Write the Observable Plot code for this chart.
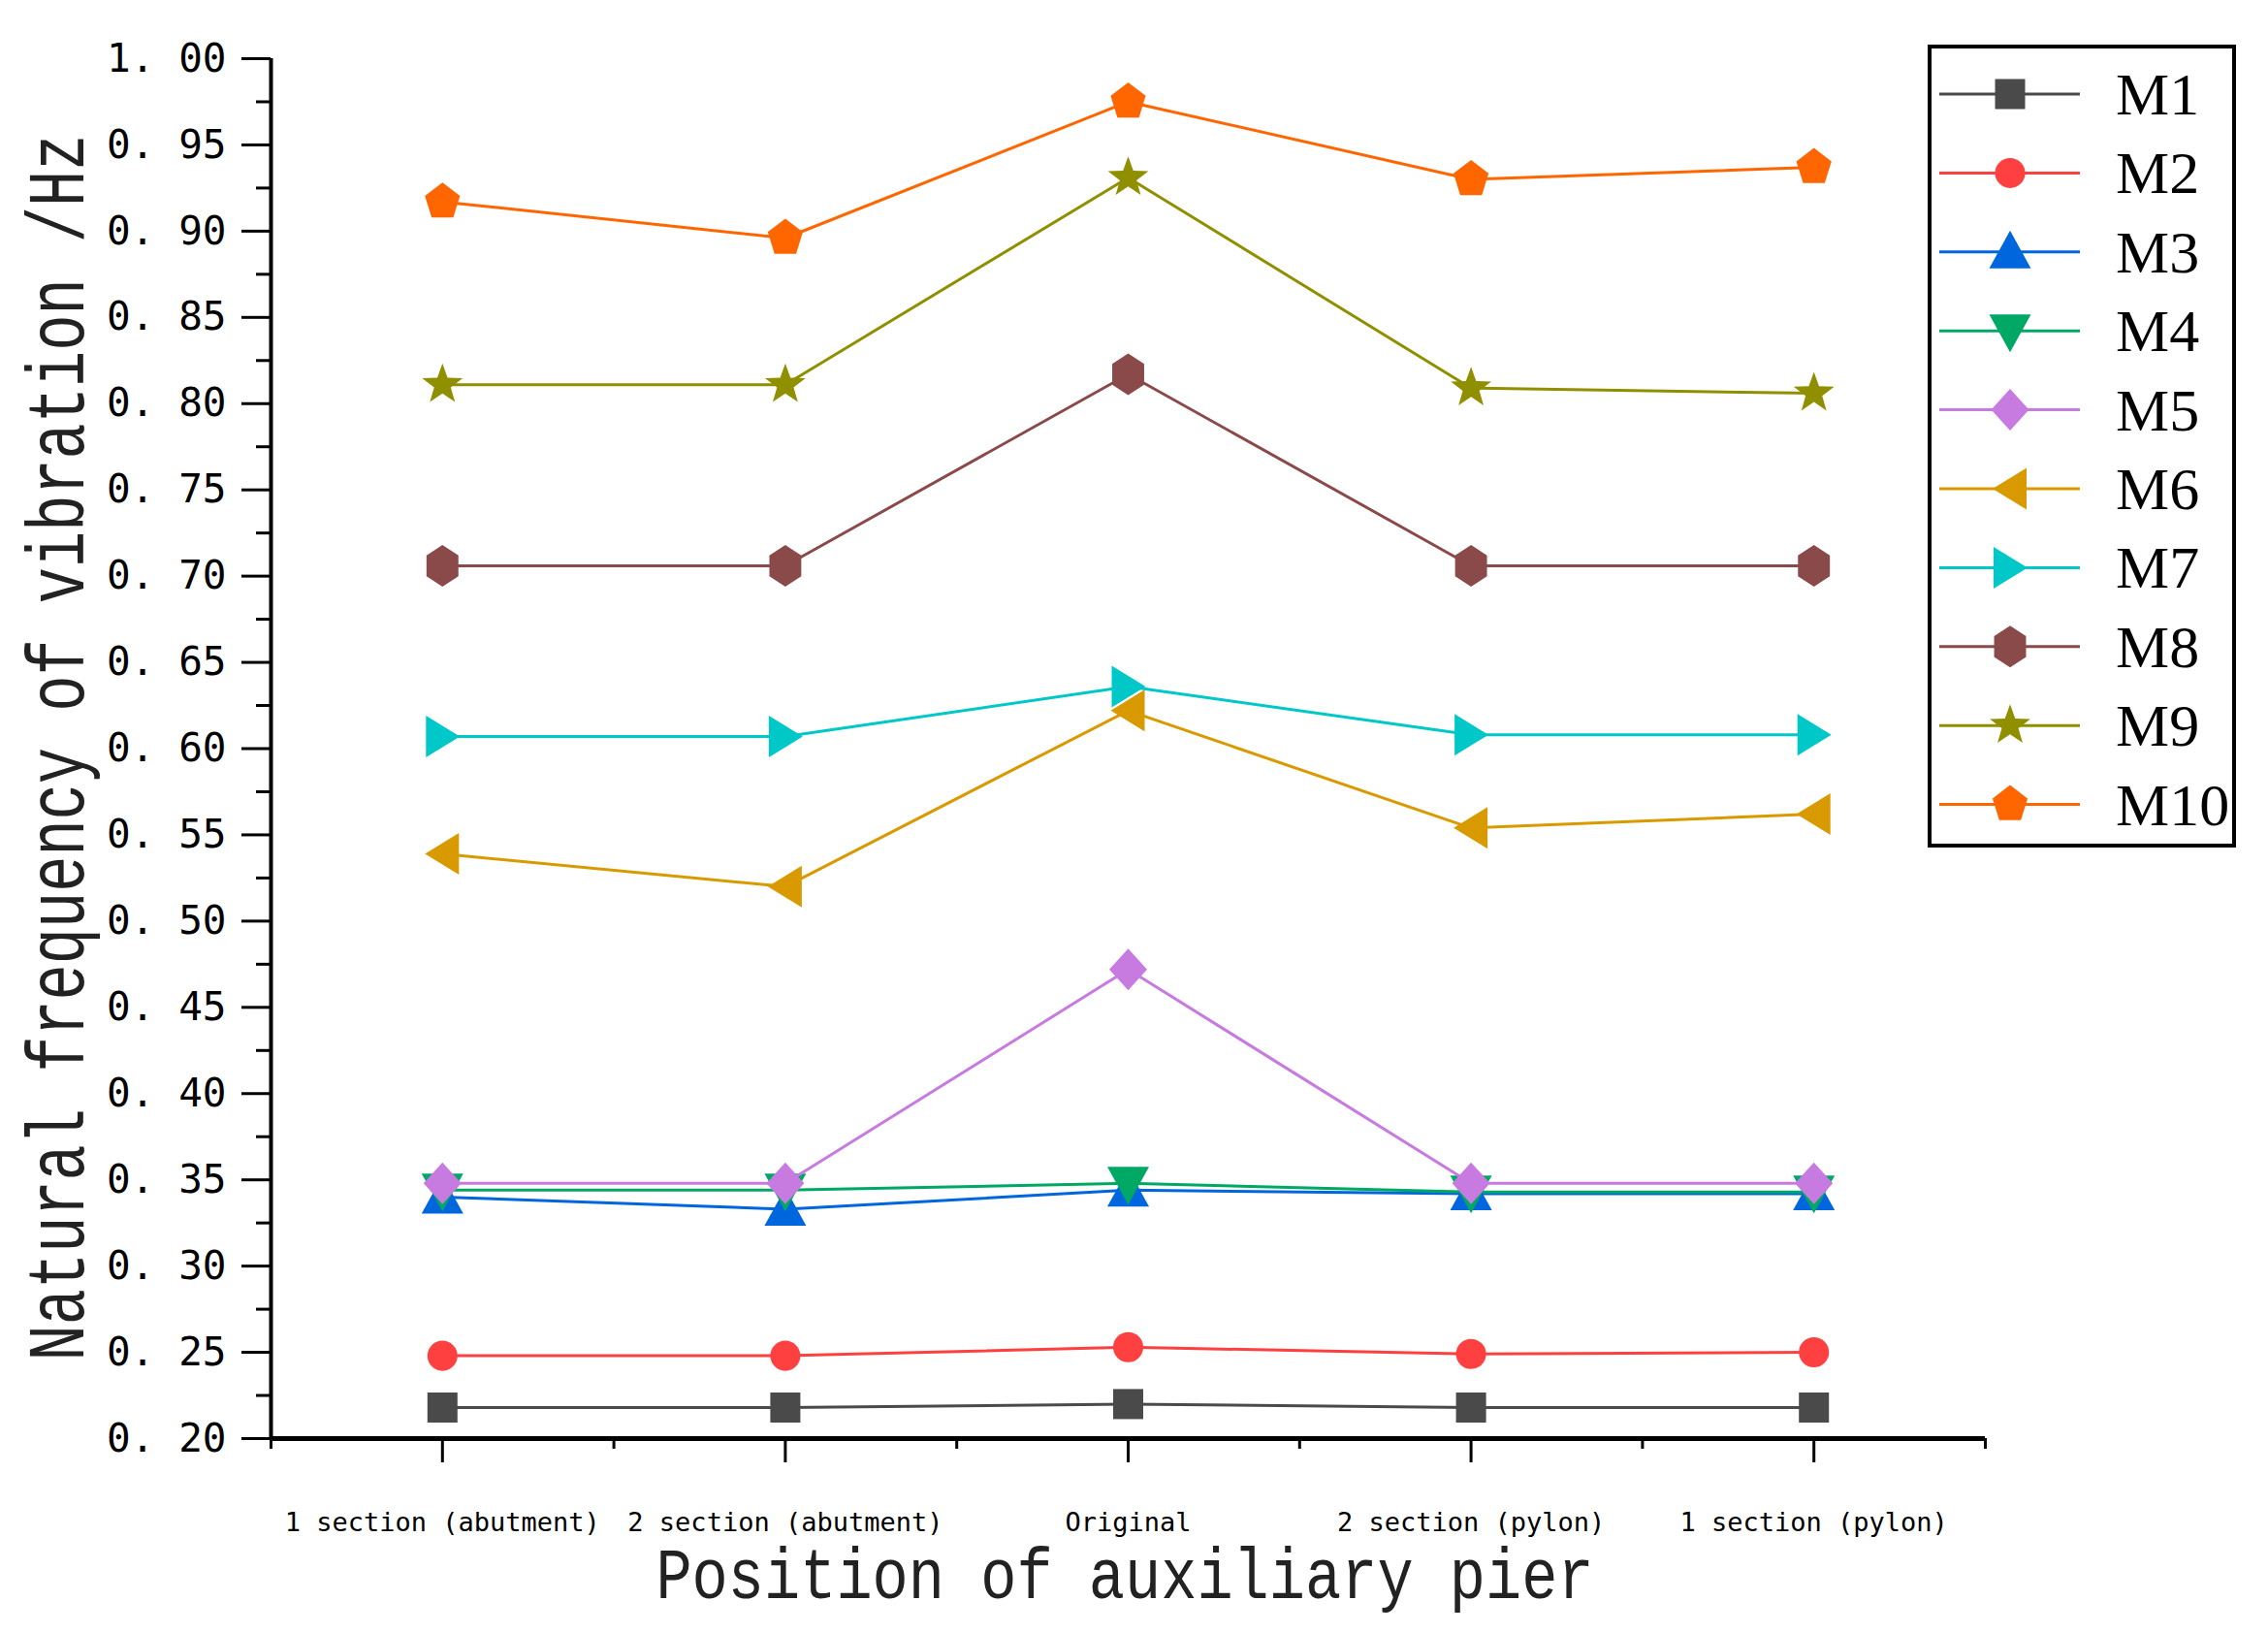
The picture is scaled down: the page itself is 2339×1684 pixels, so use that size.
<!DOCTYPE html>
<html>
<head>
<meta charset="utf-8">
<script src="https://cdn.jsdelivr.net/npm/d3@7"></script>
<script src="https://cdn.jsdelivr.net/npm/@observablehq/plot@0.6"></script>
<style>
  body { margin: 0; background: white; }
  #chart svg { display: block; }
</style>
</head>
<body>
<div id="chart"></div>
<script>
// data
const categories = ["1 section (abutment)", "2 section (abutment)", "Original", "2 section (pylon)", "1 section (pylon)"];
const seriesNames = ["M1", "M2", "M3", "M4", "M5", "M6", "M7", "M8", "M9", "M10"];
const m1 = [0.218, 0.218, 0.220, 0.218, 0.218];
const m2 = [0.248, 0.248, 0.253, 0.249, 0.250];
const m3 = [0.340, 0.333, 0.344, 0.342, 0.342];
const m4 = [0.344, 0.344, 0.348, 0.343, 0.343];
const m5 = [0.348, 0.348, 0.472, 0.348, 0.348];
const m6 = [0.539, 0.520, 0.622, 0.554, 0.562];
const m7 = [0.607, 0.607, 0.636, 0.608, 0.608];
const m8 = [0.706, 0.706, 0.817, 0.706, 0.706];
const m9 = [0.811, 0.811, 0.931, 0.809, 0.806];
const m10 = [0.917, 0.896, 0.975, 0.930, 0.937];
const yTicks = [0.20, 0.25, 0.30, 0.35, 0.40, 0.45, 0.50, 0.55, 0.60, 0.65, 0.70, 0.75, 0.80, 0.85, 0.90, 0.95, 1.00];
const yMinor = [0.225, 0.275, 0.325, 0.375, 0.425, 0.475, 0.525, 0.575, 0.625, 0.675, 0.725, 0.775, 0.825, 0.875, 0.925, 0.975];
const xMinor = [-0.5, 0.5, 1.5, 2.5, 3.5, 4.5];

const allValues = [m1, m2, m3, m4, m5, m6, m7, m8, m9, m10];
const colors = ["#4a4a4a", "#ff4040", "#0066dd", "#00a865", "#c77ae0", "#d99a00", "#00c8c8", "#8b4a4a", "#8f8f00", "#ff6600"];

// custom marker shapes (Origin style), scaled from the dot radius
function poly(pts) {
  return {
    draw(ctx, size) {
      const k = Math.sqrt(size / Math.PI) / 16;
      pts.forEach(([x, y], j) => j ? ctx.lineTo(x * k, y * k) : ctx.moveTo(x * k, y * k));
      ctx.closePath();
    }
  };
}
function star(ro, ri) {
  const pts = [];
  for (let j = 0; j < 10; j++) {
    const a = -Math.PI / 2 + j * Math.PI / 5, r = j % 2 ? ri : ro;
    pts.push([r * Math.cos(a), r * Math.sin(a)]);
  }
  return poly(pts);
}
function ngon(n, rx, ry) {
  const pts = [];
  for (let j = 0; j < n; j++) {
    const a = -Math.PI / 2 + j * 2 * Math.PI / n;
    pts.push([rx * Math.cos(a), ry * Math.sin(a)]);
  }
  return poly(pts);
}
const circle = {
  draw(ctx, size) {
    const r = Math.sqrt(size / Math.PI) * 0.97;
    ctx.moveTo(r, 0);
    ctx.arc(0, 0, r, 0, 2 * Math.PI);
  }
};
const symbols = [
  poly([[-15.5, -15.5], [15.5, -15.5], [15.5, 15.5], [-15.5, 15.5]]),
  circle,
  poly([[0, -22], [21.5, 17], [-21.5, 17]]),
  poly([[0, 22], [21.5, -17], [-21.5, -17]]),
  poly([[0, -21.5], [19.5, 0], [0, 21.5], [-19.5, 0]]),
  poly([[-18, 0], [17, -21.5], [17, 21.5]]),
  poly([[18, 0], [-17, -21.5], [-17, 21.5]]),
  ngon(6, 19, 21.5),
  star(22, 9),
  ngon(5, 19, 20)
];

const rows = [];
seriesNames.forEach((s, k) => allValues[k].forEach((v, i) => rows.push({s, i, v})));

const seriesMarks = [];
seriesNames.forEach((s, k) => {
  const d = rows.filter(r => r.s === s);
  seriesMarks.push(Plot.line(d, {x: "i", y: "v", stroke: colors[k], strokeWidth: 3}));
  seriesMarks.push(Plot.dot(d, {x: "i", y: "v", r: 16, symbol: symbols[k], fill: colors[k], stroke: "none"}));
});

const chart = Plot.plot({
  width: 2339,
  height: 1684,
  marginLeft: 279,
  marginRight: 292,
  marginTop: 60,
  marginBottom: 201,
  style: {background: "white", color: "black"},
  x: {domain: [-0.5, 4.5], label: null},
  y: {domain: [0.2, 1.0], label: null},
  marks: [
    Plot.axisY({ticks: yMinor, tickSize: 15, tickFormat: () => "", strokeWidth: 3, label: null}),
    Plot.axisY({
      ticks: yTicks, tickSize: 30, tickPadding: 16, strokeWidth: 3, label: null,
      tickFormat: d => d.toFixed(2).replace(".", ". "),
      fontSize: 41, fontFamily: "DejaVu Sans Mono"
    }),
    Plot.axisX({ticks: xMinor, tickSize: 11, tickFormat: () => "", strokeWidth: 3, label: null}),
    Plot.axisX({
      ticks: [0, 1, 2, 3, 4], tickSize: 25, tickPadding: 51, strokeWidth: 3, label: null,
      tickFormat: i => categories[i],
      fontSize: 27, fontFamily: "DejaVu Sans Mono"
    }),
    Plot.ruleX([-0.5], {stroke: "black", strokeWidth: 4}),
    Plot.ruleY([0.2], {stroke: "black", strokeWidth: 5}),
    ...seriesMarks
  ]
});

const svg = d3.select(chart);

// axis titles
svg.append("text")
  .attr("transform", "translate(86,771) rotate(-90) scale(1,1.35)")
  .attr("text-anchor", "middle")
  .attr("font-family", "Liberation Mono, DejaVu Sans Mono")
  .attr("font-size", 62)
  .attr("fill", "#222")
  .text("Natural frequency of vibration /Hz");

svg.append("text")
  .attr("transform", "translate(1160,1648) scale(1,1.2)")
  .attr("text-anchor", "middle")
  .attr("font-family", "Liberation Mono, DejaVu Sans Mono")
  .attr("font-size", 62)
  .attr("fill", "#222")
  .text("Position of auxiliary pier");

// legend box
const lg = svg.append("g");
lg.append("rect")
  .attr("x", 1990).attr("y", 48).attr("width", 314).attr("height", 824)
  .attr("fill", "white").attr("stroke", "black").attr("stroke-width", 4);
seriesNames.forEach((s, k) => {
  const y = 97 + k * 81.4;
  lg.append("line")
    .attr("x1", 2000).attr("x2", 2145).attr("y1", y).attr("y2", y)
    .attr("stroke", colors[k]).attr("stroke-width", 3);
  lg.append("path")
    .attr("transform", `translate(2073,${y})`)
    .attr("d", d3.symbol(symbols[k], Math.PI * 16 * 16)())
    .attr("fill", colors[k]);
  lg.append("text")
    .attr("x", 2182).attr("y", y + 21)
    .attr("text-anchor", "start")
    .attr("font-family", "Liberation Serif")
    .attr("font-size", 62)
    .attr("fill", "black")
    .text(s);
});

document.getElementById("chart").append(chart);
</script>
</body>
</html>
